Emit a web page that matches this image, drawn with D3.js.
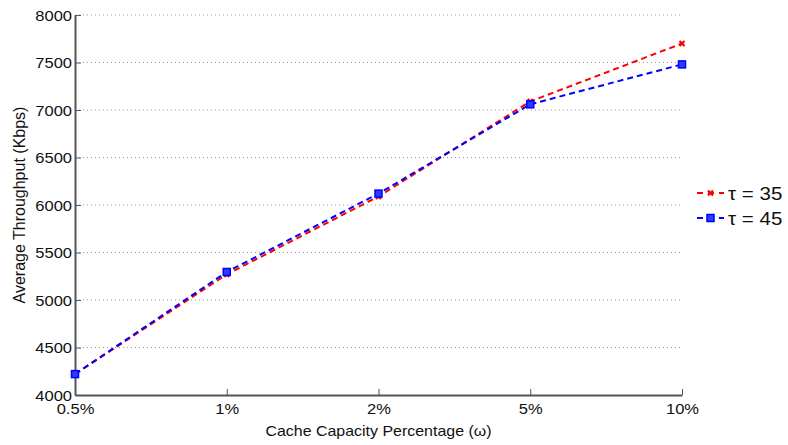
<!DOCTYPE html>
<html>
<head>
<meta charset="utf-8">
<script src="https://cdn.jsdelivr.net/npm/d3@7"></script>
<style>
  body { margin: 0; background: #fff; }
  text { font-family: "Liberation Sans", Arial, sans-serif; }
</style>
</head>
<body>
<svg width="788" height="445"></svg>
<script>
// cache size categories on the x axis
var categories = ["0.5%", "1%", "2%", "5%", "10%"]
var tau35 = [4220, 5270, 6090, 7090, 7700]
var tau45 = [4220, 5295, 6120, 7060, 7480]
var yTicks = [4000, 4500, 5000, 5500, 6000, 6500, 7000, 7500, 8000]
var seriesNames = ["\u03c4 = 35", "\u03c4 = 45"]

var svg = d3.select("svg")
var margin = {top: 15, right: 106, bottom: 50, left: 75}
var w = 788 - margin.left - margin.right
var h = 445 - margin.top - margin.bottom
var SX = 1.14 // the original figure text looks a bit wide

// widen text horizontally, keeping its anchor point
function stretch(sel) {
    sel.each(function() {
        var t = d3.select(this)
        var x0 = +t.attr("x") || 0
        t.attr("x", x0 / SX).attr("transform", `scale(${SX},1)`)
    })
}

var g = svg.append("g")
    .attr("transform", `translate(${margin.left}, ${margin.top})`)

var x = d3.scalePoint().domain(categories).range([0, w])
var y = d3.scaleLinear().domain([4000, 8000]).range([h, 0])

// dotted grid, only horizontal
g.append("g").selectAll("line").data(yTicks.slice(1)).enter().append("line")
    .attr("x1", 0).attr("x2", w)
    .attr("y1", d => y(d)).attr("y2", d => y(d))
    .attr("stroke", "#999").attr("stroke-width", 1)
    .attr("stroke-dasharray", "1,3")

var xAxis = d3.axisBottom(x).tickSizeInner(-6).tickSizeOuter(0).tickPadding(9)
var yAxis = d3.axisLeft(y).tickValues(yTicks).tickFormat(d3.format("d"))
    .tickSizeInner(-6).tickSizeOuter(0).tickPadding(3)

var xg = g.append("g").attr("transform", `translate(0, ${h})`).call(xAxis)
var yg = g.append("g").call(yAxis)
;[xg, yg].forEach(a => {
    a.attr("font-size", null).attr("font-family", null)
    a.select(".domain").attr("stroke", "#555").attr("stroke-width", 2)
    a.selectAll(".tick line").attr("stroke", "#555")
    a.selectAll("text").style("font-size", "14.5px").attr("fill", "#111")
})
yg.selectAll("text").attr("dy", "0.35em")
stretch(xg.selectAll("text"))
stretch(yg.selectAll("text"))

svg.append("text")
    .attr("x", margin.left + w / 2).attr("y", 436)
    .attr("text-anchor", "middle").style("font-size", "14px").attr("fill", "#111")
    .text("Cache Capacity Percentage (\u03c9)")
    .call(stretch)

svg.append("text")
    .attr("transform", `translate(25, ${margin.top + h / 2}) rotate(-90)`)
    .attr("text-anchor", "middle").style("font-size", "16px").attr("fill", "#111")
    .text("Average Throughput (Kbps)")

var line = d3.line().x((d, i) => x(categories[i])).y(d => y(d))

var series = [
    {name: seriesNames[0], values: tau35, color: "#ff0000", marker: "x"},
    {name: seriesNames[1], values: tau45, color: "#0000ff", marker: "sq"}
]

function drawMarker(sel, s, cx, cy) {
    if (s.marker === "x") {
        sel.append("path")
            .attr("d", `M${cx-2.5},${cy-2.5}L${cx+2.5},${cy+2.5}M${cx-2.5},${cy+2.5}L${cx+2.5},${cy-2.5}`)
            .attr("stroke", s.color).attr("stroke-width", 2.2)
    } else {
        sel.append("rect")
            .attr("x", cx - 3.5).attr("y", cy - 3.5).attr("width", 7).attr("height", 7)
            .attr("fill", "#2a3cff").attr("stroke", s.color).attr("stroke-width", 1.5)
    }
}

series.forEach(s => {
    g.append("path").datum(s.values)
        .attr("d", line)
        .attr("fill", "none").attr("stroke", s.color)
        .attr("stroke-width", 2).attr("stroke-dasharray", "6,4")
    var mg = g.append("g")
    s.values.forEach((v, i) => drawMarker(mg, s, x(categories[i]), y(v)))
})

// legend
var leg = svg.append("g")
series.forEach((s, i) => {
    var ly = 193 + i * 25
    leg.append("line").attr("x1", 697).attr("x2", 724).attr("y1", ly).attr("y2", ly)
        .attr("stroke", s.color).attr("stroke-width", 2).attr("stroke-dasharray", "6,5")
    drawMarker(leg, s, 710.5, ly)
    leg.append("text").attr("x", 728).attr("y", ly).attr("dy", "0.38em")
        .style("font-size", "18px").attr("fill", "#111").text(s.name)
        .call(stretch)
})
</script>
</body>
</html>
